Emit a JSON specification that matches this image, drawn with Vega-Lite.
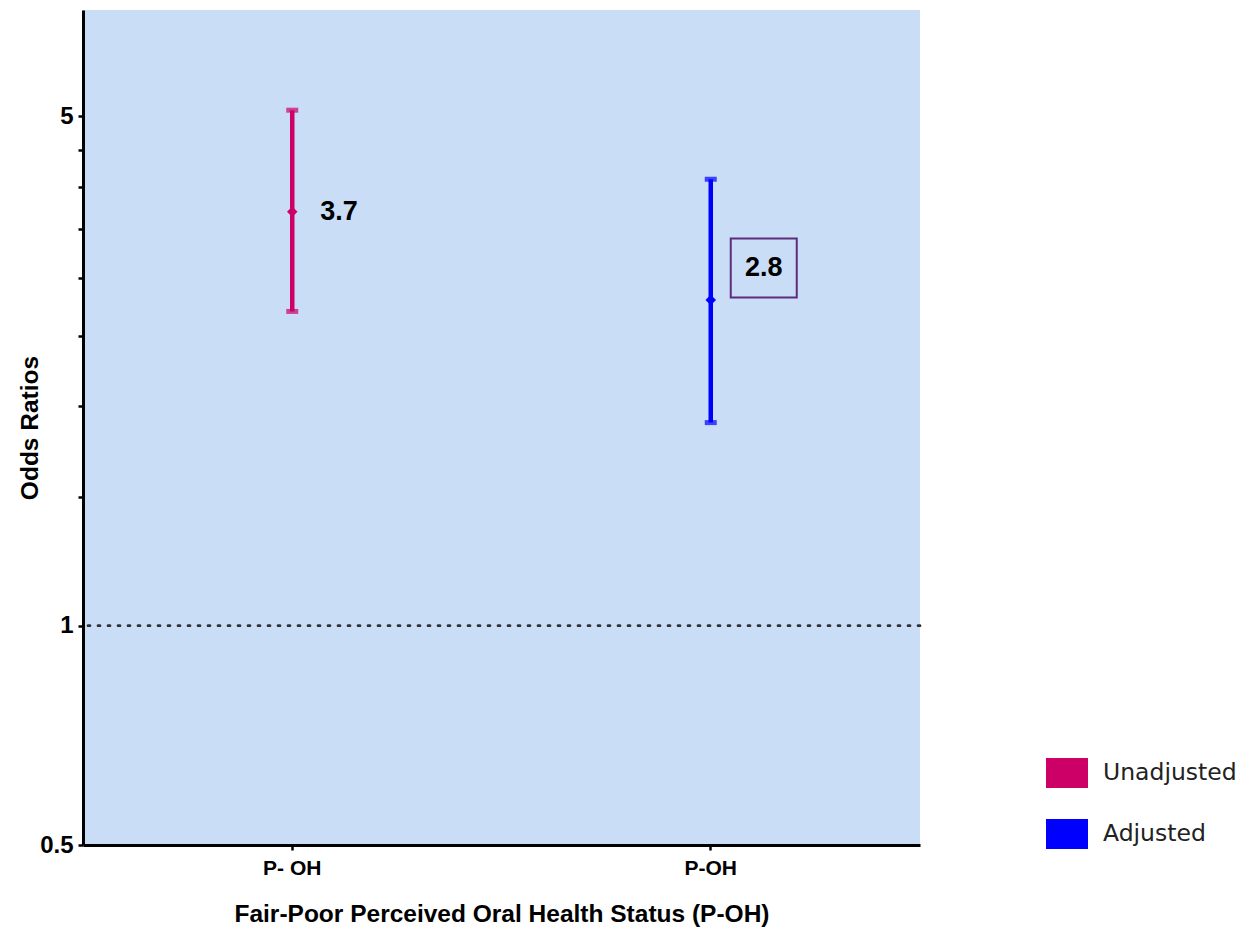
{
  "$schema": "https://vega.github.io/schema/vega-lite/v6.json",
  "width": 837,
  "height": 835,
  "autosize": {"type": "none"},
  "padding": {"left": 83, "top": 10, "right": 325, "bottom": 89},
  "background": "white",
  "config": {
    "view": {"stroke": null, "fill": "#C9DDF7"},
    "axis": {
      "domainColor": "black",
      "domainWidth": 3,
      "tickColor": "black",
      "tickWidth": 2.5,
      "tickSize": 5,
      "labelFont": "Liberation Sans",
      "labelFontWeight": "bold",
      "labelColor": "black",
      "titleFont": "Liberation Sans",
      "titleFontWeight": "bold",
      "titleColor": "black",
      "grid": false
    }
  },
  "data": {
    "values": [
      {"group": "P- OH", "series": "Unadjusted", "or": 3.7, "lower": 2.7, "upper": 5.1},
      {"group": "P-OH", "series": "Adjusted", "or": 2.8, "lower": 1.9, "upper": 4.1}
    ]
  },
  "encoding": {
    "x": {
      "field": "group",
      "type": "nominal",
      "sort": ["P- OH", "P-OH"],
      "scale": {"paddingInner": 0, "paddingOuter": 0},
      "axis": {
        "title": "Fair-Poor Perceived Oral Health Status (P-OH)",
        "labelAngle": 0,
        "labelFontSize": 21,
        "titleFontSize": 24.5,
        "labelPadding": 7,
        "titlePadding": 24
      }
    }
  },
  "layer": [
    {
      "mark": {"type": "rule", "strokeDash": [2, 8], "strokeWidth": 2.5, "color": "#333333", "strokeCap": "round"},
      "encoding": {"x": null, "y": {"datum": 1, "type": "quantitative", "scale": {"type": "log", "domain": [0.5, 7], "nice": false}}}
    },
    {
      "mark": {"type": "rule", "strokeWidth": 4.5},
      "encoding": {
        "y": {
          "field": "lower",
          "type": "quantitative",
          "scale": {"type": "log", "domain": [0.5, 7], "nice": false},
          "axis": {
            "title": "Odds Ratios",
            "values": [0.5, 1, 1.5, 2, 2.5, 3, 3.5, 4, 4.5, 5],
            "labelExpr": "datum.value == 0.5 ? '0.5' : datum.value == 1 ? '1' : datum.value == 5 ? '5' : ''",
            "labelFontSize": 24,
            "titleFontSize": 24.5,
            "labelPadding": 5,
            "titlePadding": -3
          }
        },
        "y2": {"field": "upper"},
        "color": {
          "field": "series",
          "type": "nominal",
          "scale": {"domain": ["Unadjusted", "Adjusted"], "range": ["#CC0066", "#0000FF"]},
          "legend": {
            "title": null,
            "orient": "none",
            "legendX": 969,
            "legendY": 748,
            "padding": 0,
            "symbolType": "M-1.4,-1 L1.4,-1 L1.4,1 L-1.4,1 Z",
            "symbolSize": 900,
            "symbolStrokeWidth": 0,
            "labelFont": "DejaVu Sans",
            "labelFontSize": 23.5,
            "labelColor": "#222222",
            "labelOffset": 21,
            "rowPadding": 31,
            "encode": {
              "symbols": {
                "update": {
                  "fill": {"scale": "color", "field": "value"},
                  "stroke": {"scale": "color", "field": "value"},
                  "fillOpacity": {"value": 1}
                }
              }
            }
          }
        }
      }
    },
    {
      "mark": {"type": "tick", "orient": "horizontal", "size": 12, "thickness": 5},
      "encoding": {
        "y": {"field": "lower", "type": "quantitative"},
        "color": {"field": "series", "type": "nominal"}
      }
    },
    {
      "mark": {"type": "tick", "orient": "horizontal", "size": 12, "thickness": 5},
      "encoding": {
        "y": {"field": "upper", "type": "quantitative"},
        "color": {"field": "series", "type": "nominal"}
      }
    },
    {
      "mark": {"type": "point", "shape": "diamond", "filled": true, "size": 110, "opacity": 1},
      "encoding": {
        "y": {"field": "or", "type": "quantitative"},
        "color": {"field": "series", "type": "nominal"}
      }
    },
    {
      "transform": [{"filter": "datum.series == 'Unadjusted'"}],
      "mark": {"type": "text", "align": "left", "baseline": "middle", "dx": 28, "font": "Liberation Sans", "fontWeight": "bold", "fontSize": 27, "color": "black"},
      "encoding": {
        "y": {"field": "or", "type": "quantitative"},
        "text": {"field": "or", "type": "quantitative", "format": ".1f"}
      }
    },
    {
      "transform": [{"filter": "datum.series == 'Adjusted'"}],
      "mark": {"type": "point", "shape": "M2,-6.15 L8.6,-6.15 L8.6,-0.25 L2,-0.25 Z", "size": 400, "filled": false, "stroke": "#5E2D79", "strokeWidth": 2, "opacity": 1},
      "encoding": {
        "y": {"field": "or", "type": "quantitative"}
      }
    },
    {
      "transform": [{"filter": "datum.series == 'Adjusted'"}],
      "mark": {"type": "text", "align": "center", "baseline": "middle", "dx": 53, "dy": -32, "font": "Liberation Sans", "fontWeight": "bold", "fontSize": 27, "color": "black"},
      "encoding": {
        "y": {"field": "or", "type": "quantitative"},
        "text": {"field": "or", "type": "quantitative", "format": ".1f"}
      }
    }
  ]
}
